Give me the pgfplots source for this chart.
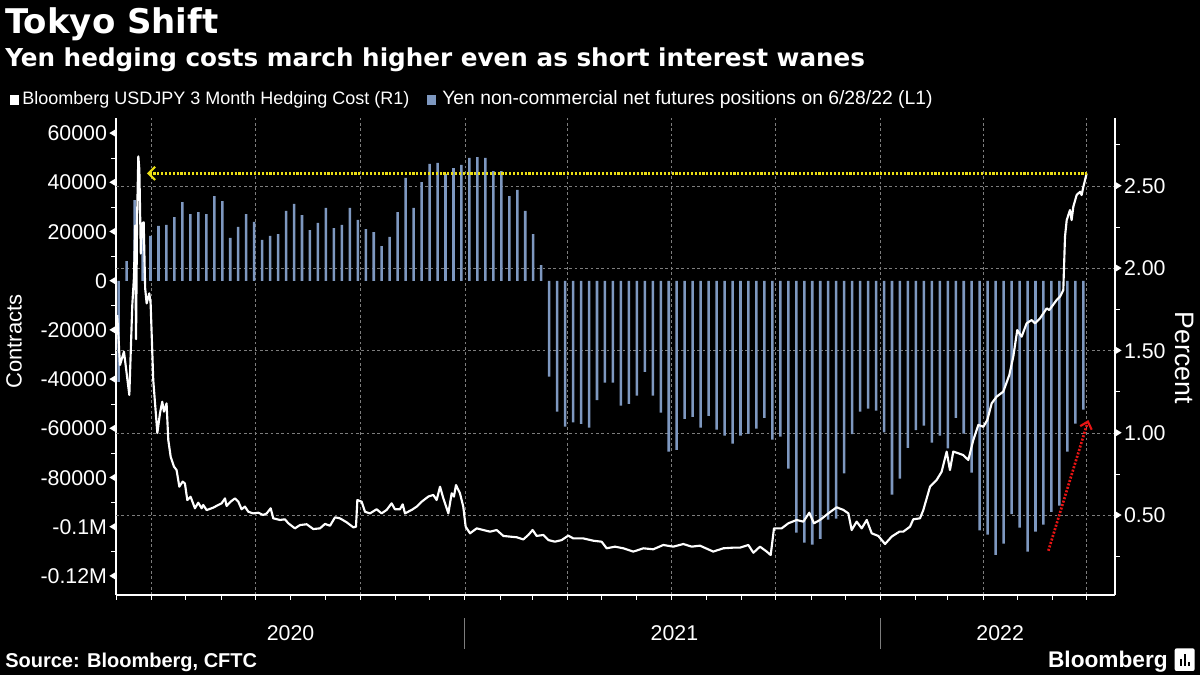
\documentclass[border=0pt]{standalone}
\usepackage{pgfplots}
\usepackage{pgfplotstable}
\pgfplotsset{compat=1.18}
\usepackage{fontspec}
\setmainfont{Liberation Sans}
\newfontfamily\dejavu{DejaVu Sans}
\usetikzlibrary{arrows.meta}
\definecolor{barblue}{RGB}{126,152,192}
\definecolor{gridgray}{RGB}{125,125,125}
\definecolor{annyellow}{RGB}{235,222,20}
\definecolor{annred}{RGB}{232,20,20}
\newcommand{\lt}{\hspace{1.8pt}\tikz[baseline={(0,-0.68ex)}]\fill[white] (0,0)--(4.5pt,2.7pt)--(4.5pt,-2.7pt)--cycle;}
\newcommand{\rt}{\tikz[baseline={(0,-0.68ex)}]\fill[white] (4.5pt,0)--(0,2.7pt)--(0,-2.7pt)--cycle;\hspace{1.8pt}}

\pgfplotstableread{
d v
62 -41000
69 8100
76 32900
83 23700
90 18300
97 22400
104 22800
111 26000
118 32100
125 27200
132 28000
139 27200
146 34500
153 32500
160 17500
167 22000
174 27200
181 24000
188 16700
195 18300
202 19100
209 28500
216 31300
223 26800
230 20700
237 23600
244 29700
251 21500
258 22800
265 29700
272 24800
279 21100
286 19900
293 14200
300 17900
307 28000
314 41900
321 29700
328 40200
335 47600
342 48000
349 43500
356 45900
363 47200
370 50000
377 50400
384 50000
391 44700
398 44700
405 34500
412 37000
419 28500
426 19100
433 6500
440 -38900
447 -53100
454 -59200
461 -57500
468 -58100
475 -59600
482 -48400
489 -41300
496 -41300
503 -50700
510 -49900
517 -46600
524 -36900
531 -46600
538 -53500
545 -69400
552 -68600
559 -56000
566 -55200
573 -59600
580 -54800
587 -60400
594 -62900
601 -66100
608 -62900
615 -62100
622 -60000
629 -55600
636 -64500
643 -63300
650 -76300
657 -102300
664 -106400
671 -107200
678 -104800
685 -97000
692 -96600
699 -78200
706 -62200
713 -53100
720 -51900
727 -52700
734 -61500
741 -86800
748 -80300
755 -67800
762 -60600
769 -58800
776 -65700
783 -62900
790 -68000
797 -55600
804 -62000
811 -77900
818 -101400
825 -103100
832 -111300
839 -106800
846 -94800
853 -100300
860 -110000
867 -101900
874 -99000
881 -93800
888 -91300
895 -69400
902 -58000
909 -52300
}\bars

\pgfplotstableread{
d p
60.8 1.716
63.2 1.413
66.7 1.494
71.4 1.231
74.0 1.777
75.5 1.95
76.5 2.26
77.3 1.57
78.2 2.30
79.3 2.68
80.2 2.60
81.5 2.09
82.5 2.27
84.0 2.28
85.3 1.88
86.6 1.787
88.9 1.848
90.1 1.787
92.4 1.322
96.0 1.000
98.3 1.119
100.3 1.190
101.8 1.130
104.1 1.180
105.6 0.958
107.7 0.856
110.6 0.796
112.9 0.775
115.3 0.674
118.2 0.705
120.2 0.694
122.3 0.593
125.2 0.613
129.0 0.543
131.9 0.577
134.9 0.543
136.3 0.563
139.3 0.532
145.1 0.547
149.5 0.563
152.4 0.573
155.4 0.603
156.8 0.557
160.3 0.583
164.1 0.603
167.1 0.583
170.0 0.537
172.9 0.553
175.9 0.522
180.2 0.512
184.6 0.516
189.0 0.502
192.0 0.512
195.5 0.543
197.8 0.482
203.7 0.472
208.0 0.476
211.0 0.452
216.8 0.421
221.2 0.441
227.1 0.446
232.9 0.417
238.8 0.421
243.2 0.448
247.6 0.437
252.0 0.488
256.3 0.482
262.2 0.458
268.1 0.427
270.4 0.431
271.6 0.593
275.4 0.583
278.3 0.522
282.7 0.512
288.5 0.537
292.9 0.512
297.3 0.533
301.7 0.573
304.6 0.537
309.0 0.537
311.4 0.567
313.4 0.512
319.3 0.533
323.7 0.553
328.1 0.583
333.9 0.614
338.3 0.624
341.2 0.593
344.2 0.674
347.1 0.603
351.5 0.512
354.4 0.634
356.4 0.614
358.2 0.684
361.7 0.634
364.6 0.553
366.7 0.431
370.5 0.391
376.4 0.421
382.2 0.411
388.1 0.401
393.9 0.411
399.8 0.375
405.6 0.371
411.5 0.367
417.3 0.354
421.7 0.381
425.5 0.411
429.0 0.375
434.9 0.381
439.3 0.350
445.1 0.340
451.0 0.350
456.8 0.377
461.2 0.360
470.0 0.360
478.8 0.346
486.1 0.340
490.5 0.300
497.8 0.310
505.1 0.300
513.9 0.280
522.7 0.300
531.4 0.294
540.2 0.320
549.0 0.310
557.8 0.326
565.1 0.310
572.4 0.316
584.1 0.280
592.9 0.300
601.7 0.304
607.5 0.304
614.9 0.320
619.3 0.273
625.1 0.310
631.0 0.280
634.5 0.259
637.4 0.421
644.1 0.421
650.0 0.452
657.3 0.472
663.2 0.462
668.4 0.516
672.5 0.452
677.8 0.472
685.1 0.512
692.4 0.549
698.3 0.533
702.7 0.512
705.6 0.411
710.0 0.462
714.4 0.421
718.8 0.472
723.2 0.391
729.0 0.375
734.9 0.326
740.7 0.371
747.5 0.401
750.9 0.401
756.8 0.431
759.7 0.476
765.6 0.482
768.5 0.532
774.4 0.674
780.2 0.715
784.6 0.765
789.0 0.887
791.9 0.775
794.8 0.887
799.2 0.877
803.6 0.866
808.0 0.836
812.4 0.958
816.8 1.049
821.2 1.038
824.7 1.079
828.5 1.180
832.9 1.221
838.7 1.251
844.0 1.352
847.5 1.464
851.0 1.625
854.8 1.585
859.2 1.666
863.6 1.686
866.6 1.666
870.9 1.696
876.8 1.757
879.1 1.747
885.6 1.808
888.5 1.828
891.4 1.868
892.9 2.192
894.4 2.293
895.8 2.323
897.3 2.354
898.7 2.293
900.2 2.374
903.1 2.445
906.1 2.465
907.5 2.445
909.0 2.495
911.9 2.576
}\hedge

\begin{document}
\begin{tikzpicture}
\fill[black] (0,0) rectangle (900pt,506.25pt);
\useasboundingbox (0,0) rectangle (900pt,506.25pt);

% ---- left axis: bars ----
\begin{axis}[
  at={(87pt,60pt)}, anchor=south west, scale only axis,
  width=749.25pt, height=357.75pt,
  xmin=59.7, xmax=936.8, ymin=-127640, ymax=66260,
  clip=false,
  scaled y ticks=false, scaled x ticks=false,
  axis x line*=bottom, axis y line*=left,
  axis line style={white, line width=0.9pt, -},
  tick align=outside,
  major tick length=3.5pt, minor tick length=3.5pt,
  tick style={white, line width=0.7pt},
  xtick={91,182,274,366,456,547,639,731,821,912},
  xticklabels={},
  minor xtick={60,121,152,213,244,305,335,397,425,486,517,578,609,670,700,762,790,851,882},
  xmajorgrids,
  major grid style={gridgray, dash pattern=on 2pt off 2pt, line width=0.5pt},
  ytick={60000,40000,20000,0,-20000,-40000,-60000,-80000,-100000,-120000},
  yticklabels={{60000\lt},{40000\lt},{20000\lt},{0\lt},{-20000\lt},{-40000\lt},{-60000\lt},{-80000\lt},{-0.1M\lt},{-0.12M\lt}},
  minor ytick={50000,30000,10000,-10000,-30000,-50000,-70000,-90000,-110000},
  yticklabel style={white, font=\fontsize{16}{16}\selectfont, inner sep=0pt, xshift=3.2pt, anchor=east},
  extra y ticks={5144,38615,-28327,-61797,-95268},
  extra y tick labels={},
  extra y tick style={grid=major, major tick length=0pt},
]
\addplot[ybar, bar width=1.9pt, fill=barblue, draw=none] table[x=d, y=v] {\bars};
% year separators and labels
\draw[gridgray, line width=0.6pt] (axis cs:366,-137000) -- (axis cs:366,-149500);
\draw[gridgray, line width=0.6pt] (axis cs:731,-137000) -- (axis cs:731,-149500);
\node[white, font=\fontsize{16}{16}\selectfont] at (axis cs:213,-143300) {2020};
\node[white, font=\fontsize{16}{16}\selectfont] at (axis cs:550,-143300) {2021};
\node[white, font=\fontsize{16}{16}\selectfont] at (axis cs:836,-143300) {2022};
\end{axis}

% ---- right axis: hedging cost ----
\begin{axis}[
  at={(87pt,60pt)}, anchor=south west, scale only axis,
  width=749.25pt, height=357.75pt,
  xmin=59.7, xmax=936.8, ymin=0.0164, ymax=2.913,
  axis x line=none, axis y line*=right,
  axis line style={white, line width=0.9pt, -},
  tick align=outside,
  major tick length=3.5pt, minor tick length=3.5pt,
  tick style={white, line width=0.7pt},
  ytick={0.5,1,1.5,2,2.5},
  yticklabels={{\rt0.50},{\rt1.00},{\rt1.50},{\rt2.00},{\rt2.50}},
  minor ytick={0.25,0.75,1.25,1.75,2.25,2.75},
  yticklabel style={white, font=\fontsize{16}{16}\selectfont, inner sep=0pt, xshift=-3.2pt, anchor=west},
]
\addplot[white, line width=1.6pt, line join=round] table[x=d, y=p] {\hedge};
\draw[annyellow, line width=2.2pt, dash pattern=on 1.6pt off 1.3pt, {Straight Barb[length=5pt,width=10pt,line width=1.6pt]}-]
  (axis cs:86.9,2.577) -- (axis cs:912,2.577);
\draw[annred, line width=2pt, dash pattern=on 1.5pt off 1.2pt, -{Straight Barb[length=5pt,width=9pt,line width=1.6pt]}]
  (axis cs:878.3,0.285) -- (axis cs:913.4,1.079);
\end{axis}

% ---- titles and legend ----
\node[anchor=base west, white, font=\dejavu\bfseries\fontsize{25.5}{25.5}\selectfont, inner sep=0pt] at (3.75pt,481pt) {Tokyo Shift};
\node[anchor=base west, white, font=\dejavu\bfseries\fontsize{18.5}{18.5}\selectfont, inner sep=0pt] at (3.75pt,456pt) {Yen hedging costs march higher even as short interest wanes};
\fill[white] (7.5pt,427.5pt) rectangle (14.25pt,435pt);
\node[anchor=west, white, font=\fontsize{13.5}{13.5}\selectfont, inner sep=0pt] at (16.5pt,431.25pt) {Bloomberg USDJPY 3 Month Hedging Cost (R1)};
\fill[barblue] (320.25pt,427.5pt) rectangle (327pt,435pt);
\node[anchor=west, white, font=\fontsize{14.5}{14.5}\selectfont, inner sep=0pt] at (331.5pt,431.25pt) {Yen non-commercial net futures positions on 6/28/22 (L1)};
% axis titles
\node[white, rotate=90, font=\fontsize{16.5}{16.5}\selectfont] at (10.5pt,250pt) {Contracts};
\node[white, rotate=-90, font=\fontsize{20}{20}\selectfont] at (888.75pt,238pt) {Percent};
% footer
\node[anchor=base west, white, font=\bfseries\fontsize{15}{15}\selectfont, inner sep=0pt] at (3.75pt,5.5pt) {Source: Bloomberg, CFTC};
\node[anchor=base east, white, font=\bfseries\fontsize{17}{17}\selectfont, inner sep=0pt] at (876pt,5.5pt) {Bloomberg};
\fill[white, rounded corners=1.5pt] (881pt,3pt) rectangle (896pt,20pt);
\fill[black] (885pt,7pt) rectangle (886.5pt,12pt);
\fill[black] (888pt,7pt) rectangle (889.5pt,16pt);
\fill[black] (891pt,7pt) rectangle (892.5pt,10pt);
\end{tikzpicture}
\end{document}
